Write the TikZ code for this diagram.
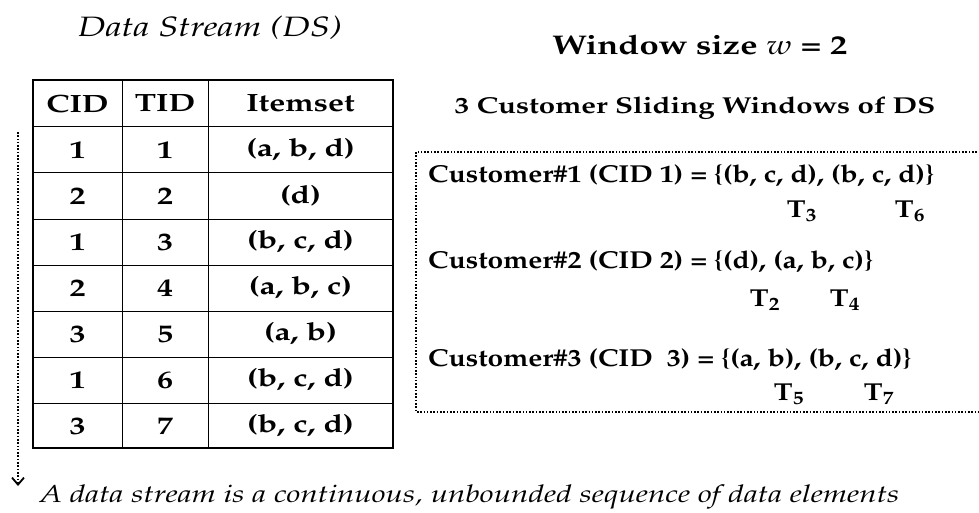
\documentclass[tikz,border=0pt]{standalone}
\usepackage[T1]{fontenc}
\usepackage{mathpazo}
\usetikzlibrary{arrows.meta}

\tikzset{
  wide/.style={xscale=1.28, transform shape},
  cell/.style={wide, font=\fontsize{25}{28}\selectfont\bfseries},
  cust/.style={xscale=1.15, transform shape, anchor=west, inner sep=0pt, font=\fontsize{24.5}{28}\selectfont\bfseries},
  tlab/.style={xscale=1.15, transform shape, inner sep=0pt, font=\fontsize{24.5}{28}\selectfont\bfseries},
  dotline/.style={dash pattern=on 1.6pt off 1.7pt, line width=1.6pt}
}

\begin{document}
\begin{tikzpicture}[x=1pt,y=-1pt]
	\useasboundingbox (0,0) rectangle (979,513);
	
	\node[wide, font=\fontsize{28}{31}\selectfont\itshape] (dstitle) at (210,28) {Data Stream (DS)};
	\node[wide, font=\fontsize{27}{30}\selectfont\bfseries] (wsize) at (700,45) {Window size $w$ = 2};
	\node[wide, font=\fontsize{23}{26}\selectfont\bfseries] (wtitle) at (695,108) {3 Customer Sliding Windows of DS};
	
	% table
	\foreach \y in {127,173,...,403}
		\draw[line width=1pt] (33,\y) -- (393,\y);
	\foreach \x in {122,208}
		\draw[line width=1pt] (\x,80) -- (\x,448);
	\draw[line width=2pt] (33,80) rectangle (393,448);
	
	\node[cell] (hcid) at (77.5,103.5) {CID};
	\node[cell] (htid) at (165,103.5) {TID};
	\node[cell] (hset) at (300.5,103.5) {Itemset};
	\foreach \c/\t/\s [count=\i] in {1/1/{(a, b, d)}, 2/2/{(d)}, 1/3/{(b, c, d)}, 2/4/{(a, b, c)},
			3/5/{(a, b)}, 1/6/{(b, c, d)}, 3/7/{(b, c, d)}} {
		\node[cell] (cid\i) at (77.5,{104+46*\i}) {\c};
		\node[cell] (tid\i) at (165,{104+46*\i}) {\t};
		\node[cell] (set\i) at (300.5,{104+46*\i}) {\s};
	}
	
	% stream arrow
	\coordinate (sttop) at (18,132);
	\coordinate (stend) at (18,486);
	\draw[dotline,-{Straight Barb[length=7pt,width=12pt,line width=1.8pt]}] (sttop) -- (stend);
	\node[wide, anchor=west, font=\fontsize{24.4}{28}\selectfont\itshape] (caption) at (35,497)
		{A data stream is a continuous, unbounded sequence of data elements};
	
	% windows
	\draw[dotline] (990,152) -| (416,412) -- (990,412);
	\node[cust] (cus1) at (428,176) {Customer\#1 (CID 1) = \{(b, c, d), (b, c, d)\}};
	\node[cust] (cus2) at (428,262) {Customer\#2 (CID 2) = \{(d), (a, b, c)\}};
	\node[cust] (cus3) at (428,360) {Customer\#3 (CID\ \ 3) = \{(a, b), (b, c, d)\}};
	
	\node[tlab] (t3) at (802,211) {T\textsubscript{3}};
	\node[tlab] (t6) at (910,211) {T\textsubscript{6}};
	\node[tlab] (t2) at (765,300) {T\textsubscript{2}};
	\node[tlab] (t4) at (845,300) {T\textsubscript{4}};
	\node[tlab] (t5) at (789,394) {T\textsubscript{5}};
	\node[tlab] (t7) at (879,394) {T\textsubscript{7}};
\end{tikzpicture}
\end{document}
